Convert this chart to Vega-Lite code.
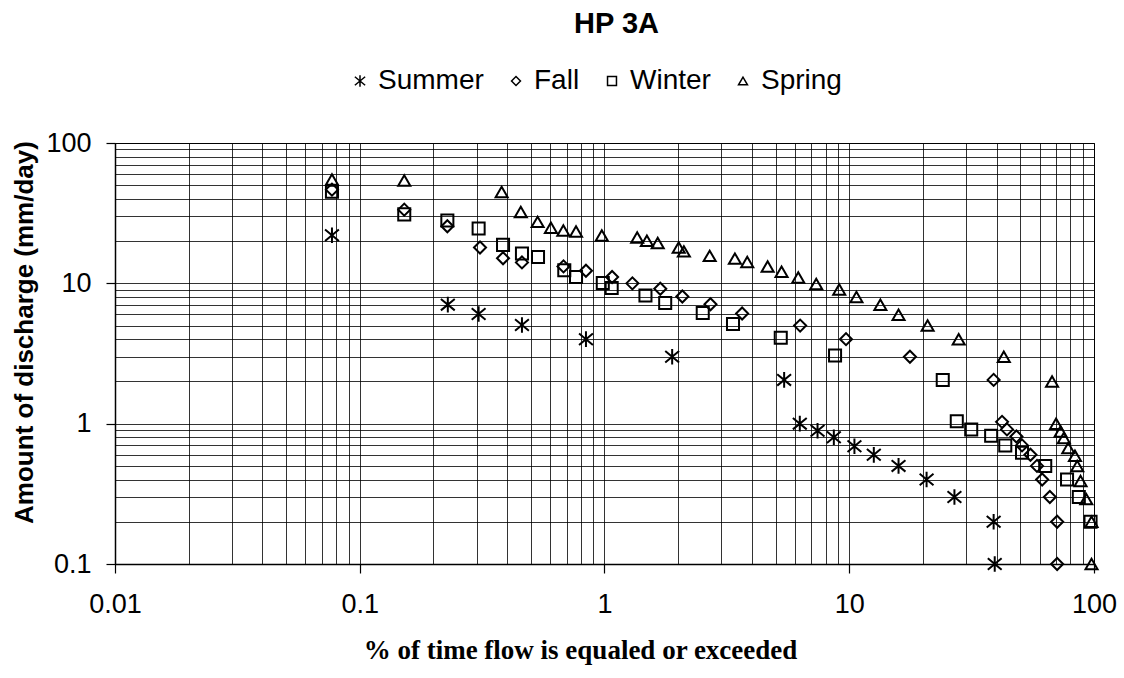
{
  "$schema": "https://vega.github.io/schema/vega-lite/v6.json",
  "autosize": {"type": "none"},
  "padding": {"left": 115, "top": 143, "right": 30, "bottom": 114},
  "width": 979,
  "height": 421,
  "background": "white",
  "title": {"text": "HP 3A", "font": "Liberation Sans", "fontSize": 29, "fontWeight": "bold", "color": "black", "anchor": "middle", "frame": "group", "dx": 12, "offset": 28},
  "config": {
    "view": {"stroke": "black", "strokeWidth": 1},
    "axis": {"domainColor": "black", "domainWidth": 1.5, "tickColor": "black", "tickWidth": 1.2, "tickSize": 9, "labelColor": "black", "titleColor": "black", "labelFont": "Liberation Sans", "labelFontSize": 27, "gridColor": "black", "gridOpacity": 0.8, "gridWidth": 1}
  },
  "data": {"values": [
    {"season": "Summer", "pct": 0.077, "q": 22},
    {"season": "Summer", "pct": 0.229, "q": 7.05},
    {"season": "Summer", "pct": 0.306, "q": 6.05},
    {"season": "Summer", "pct": 0.46, "q": 5.05},
    {"season": "Summer", "pct": 0.84, "q": 4.0},
    {"season": "Summer", "pct": 1.89, "q": 3.0},
    {"season": "Summer", "pct": 5.42, "q": 2.05},
    {"season": "Summer", "pct": 6.28, "q": 1.0},
    {"season": "Summer", "pct": 7.42, "q": 0.89},
    {"season": "Summer", "pct": 8.65, "q": 0.8},
    {"season": "Summer", "pct": 10.5, "q": 0.69},
    {"season": "Summer", "pct": 12.6, "q": 0.6},
    {"season": "Summer", "pct": 15.9, "q": 0.5},
    {"season": "Summer", "pct": 20.7, "q": 0.4},
    {"season": "Summer", "pct": 26.9, "q": 0.3},
    {"season": "Summer", "pct": 38.9, "q": 0.2},
    {"season": "Summer", "pct": 39.3, "q": 0.1},
    {"season": "Fall", "pct": 0.077, "q": 46.5},
    {"season": "Fall", "pct": 0.152, "q": 33.5},
    {"season": "Fall", "pct": 0.228, "q": 25.5},
    {"season": "Fall", "pct": 0.31, "q": 18},
    {"season": "Fall", "pct": 0.385, "q": 15.1},
    {"season": "Fall", "pct": 0.46, "q": 14.1},
    {"season": "Fall", "pct": 0.68, "q": 13.2},
    {"season": "Fall", "pct": 0.84, "q": 12.3},
    {"season": "Fall", "pct": 1.074, "q": 11.1},
    {"season": "Fall", "pct": 1.3, "q": 10},
    {"season": "Fall", "pct": 1.69, "q": 9.15},
    {"season": "Fall", "pct": 2.08, "q": 8.05},
    {"season": "Fall", "pct": 2.71, "q": 7.1},
    {"season": "Fall", "pct": 3.65, "q": 6.1},
    {"season": "Fall", "pct": 6.3, "q": 5.0},
    {"season": "Fall", "pct": 9.7, "q": 4.0},
    {"season": "Fall", "pct": 17.7, "q": 3.0},
    {"season": "Fall", "pct": 38.9, "q": 2.05},
    {"season": "Fall", "pct": 42.1, "q": 1.03},
    {"season": "Fall", "pct": 44.1, "q": 0.91},
    {"season": "Fall", "pct": 48.2, "q": 0.81},
    {"season": "Fall", "pct": 50.8, "q": 0.7},
    {"season": "Fall", "pct": 55, "q": 0.6},
    {"season": "Fall", "pct": 58.5, "q": 0.5},
    {"season": "Fall", "pct": 61.4, "q": 0.4},
    {"season": "Fall", "pct": 66, "q": 0.3},
    {"season": "Fall", "pct": 70.7, "q": 0.2},
    {"season": "Fall", "pct": 70.7, "q": 0.1},
    {"season": "Winter", "pct": 0.077, "q": 45},
    {"season": "Winter", "pct": 0.152, "q": 31},
    {"season": "Winter", "pct": 0.228, "q": 28},
    {"season": "Winter", "pct": 0.306, "q": 24.6},
    {"season": "Winter", "pct": 0.385, "q": 18.8},
    {"season": "Winter", "pct": 0.46, "q": 16.3},
    {"season": "Winter", "pct": 0.535, "q": 15.4},
    {"season": "Winter", "pct": 0.685, "q": 12.4},
    {"season": "Winter", "pct": 0.765, "q": 11.1},
    {"season": "Winter", "pct": 0.984, "q": 10.05},
    {"season": "Winter", "pct": 1.07, "q": 9.25},
    {"season": "Winter", "pct": 1.47, "q": 8.2},
    {"season": "Winter", "pct": 1.77, "q": 7.24},
    {"season": "Winter", "pct": 2.52, "q": 6.14},
    {"season": "Winter", "pct": 3.35, "q": 5.13},
    {"season": "Winter", "pct": 5.25, "q": 4.1},
    {"season": "Winter", "pct": 8.75, "q": 3.06},
    {"season": "Winter", "pct": 24.1, "q": 2.05},
    {"season": "Winter", "pct": 27.5, "q": 1.04},
    {"season": "Winter", "pct": 31.5, "q": 0.91},
    {"season": "Winter", "pct": 38, "q": 0.82},
    {"season": "Winter", "pct": 43.4, "q": 0.7},
    {"season": "Winter", "pct": 50.8, "q": 0.62},
    {"season": "Winter", "pct": 63.2, "q": 0.5},
    {"season": "Winter", "pct": 77.6, "q": 0.4},
    {"season": "Winter", "pct": 86.7, "q": 0.3},
    {"season": "Winter", "pct": 96.8, "q": 0.2},
    {"season": "Spring", "pct": 0.077, "q": 55},
    {"season": "Spring", "pct": 0.152, "q": 54},
    {"season": "Spring", "pct": 0.38, "q": 44.7},
    {"season": "Spring", "pct": 0.455, "q": 32.2},
    {"season": "Spring", "pct": 0.533, "q": 27.4},
    {"season": "Spring", "pct": 0.604, "q": 24.9},
    {"season": "Spring", "pct": 0.679, "q": 23.8},
    {"season": "Spring", "pct": 0.765, "q": 23.4},
    {"season": "Spring", "pct": 0.975, "q": 21.9},
    {"season": "Spring", "pct": 1.36, "q": 21.2},
    {"season": "Spring", "pct": 1.49, "q": 20.1},
    {"season": "Spring", "pct": 1.65, "q": 19.4},
    {"season": "Spring", "pct": 2.01, "q": 18},
    {"season": "Spring", "pct": 2.11, "q": 16.9},
    {"season": "Spring", "pct": 2.69, "q": 15.7},
    {"season": "Spring", "pct": 3.41, "q": 15},
    {"season": "Spring", "pct": 3.83, "q": 14.2},
    {"season": "Spring", "pct": 4.64, "q": 13.2},
    {"season": "Spring", "pct": 5.29, "q": 12.1},
    {"season": "Spring", "pct": 6.19, "q": 11},
    {"season": "Spring", "pct": 7.33, "q": 9.9},
    {"season": "Spring", "pct": 9.1, "q": 9.05},
    {"season": "Spring", "pct": 10.7, "q": 8},
    {"season": "Spring", "pct": 13.4, "q": 7.04},
    {"season": "Spring", "pct": 15.9, "q": 5.97},
    {"season": "Spring", "pct": 20.9, "q": 5},
    {"season": "Spring", "pct": 28, "q": 4},
    {"season": "Spring", "pct": 42.8, "q": 3},
    {"season": "Spring", "pct": 67.4, "q": 2},
    {"season": "Spring", "pct": 70, "q": 1},
    {"season": "Spring", "pct": 73, "q": 0.88},
    {"season": "Spring", "pct": 75.3, "q": 0.79},
    {"season": "Spring", "pct": 78.5, "q": 0.67},
    {"season": "Spring", "pct": 83.6, "q": 0.59},
    {"season": "Spring", "pct": 85.4, "q": 0.5},
    {"season": "Spring", "pct": 88.1, "q": 0.39},
    {"season": "Spring", "pct": 93, "q": 0.29},
    {"season": "Spring", "pct": 97.7, "q": 0.2},
    {"season": "Spring", "pct": 97.7, "q": 0.1}
  ]},
  "mark": {"type": "point", "filled": false, "strokeWidth": 2, "size": 145, "color": "black", "opacity": 1},
  "encoding": {
    "x": {
      "field": "pct", "type": "quantitative",
      "scale": {"type": "log", "domain": [0.01, 100], "nice": false},
      "axis": {
        "values": [0.01,0.02,0.03,0.04,0.05,0.06,0.07,0.08,0.09,0.1,0.2,0.3,0.4,0.5,0.6,0.7,0.8,0.9,1,2,3,4,5,6,7,8,9,10,20,30,40,50,60,70,80,90,100],
        "format": "~g",
        "labelExpr": "indexof([0.01,0.1,1,10,100], datum.value) >= 0 ? datum.label : ''",
        "tickOpacity": {"condition": {"test": "indexof([0.01,0.1,1,10,100], datum.value) < 0", "value": 0}, "value": 1},
        "labelPadding": 18,
        "labelFlush": false,
        "labelOverlap": false,
        "title": "% of time flow is equaled or exceeded",
        "titleFont": "Liberation Serif", "titleFontSize": 27, "titleFontWeight": "bold",
        "titleX": 465, "titleY": 94, "titleBaseline": "alphabetic", "titleAlign": "center"
      }
    },
    "y": {
      "field": "q", "type": "quantitative",
      "scale": {"type": "log", "domain": [0.1, 100], "nice": false},
      "axis": {
        "values": [0.1,0.2,0.3,0.4,0.5,0.6,0.7,0.8,0.9,1,2,3,4,5,6,7,8,9,10,20,30,40,50,60,70,80,90,100],
        "format": "~g",
        "labelExpr": "indexof([0.1,1,10,100], datum.value) >= 0 ? datum.label : ''",
        "tickOpacity": {"condition": {"test": "indexof([0.1,1,10,100], datum.value) < 0", "value": 0}, "value": 1},
        "labelPadding": 15,
        "labelFlush": false,
        "labelOverlap": false,
        "title": "Amount of discharge (mm/day)",
        "titleFont": "Liberation Sans", "titleFontSize": 26, "titleFontWeight": "bold",
        "titleX": -91, "titleY": 189, "titleBaseline": "middle", "titleAlign": "center", "titleAngle": 270
      }
    },
    "shape": {
      "field": "season", "type": "nominal",
      "scale": {"domain": ["Summer", "Fall", "Winter", "Spring"], "range": ["M-1.15,-0.95L1.15,0.95M1.15,-0.95L-1.15,0.95M0,-1.3L0,1.3", "diamond", "square", "triangle-up"]},
      "legend": {
        "title": null, "orient": "none", "direction": "horizontal",
        "legendX": 231, "legendY": -76, "padding": 0,
        "symbolSize": 80, "symbolStrokeWidth": 1.5, "symbolStrokeColor": "black", "symbolFillColor": "transparent",
        "labelFont": "Liberation Sans", "labelFontSize": 28, "labelColor": "black",
        "labelOffset": 4, "columnPadding": 18
      }
    }
  }
}
